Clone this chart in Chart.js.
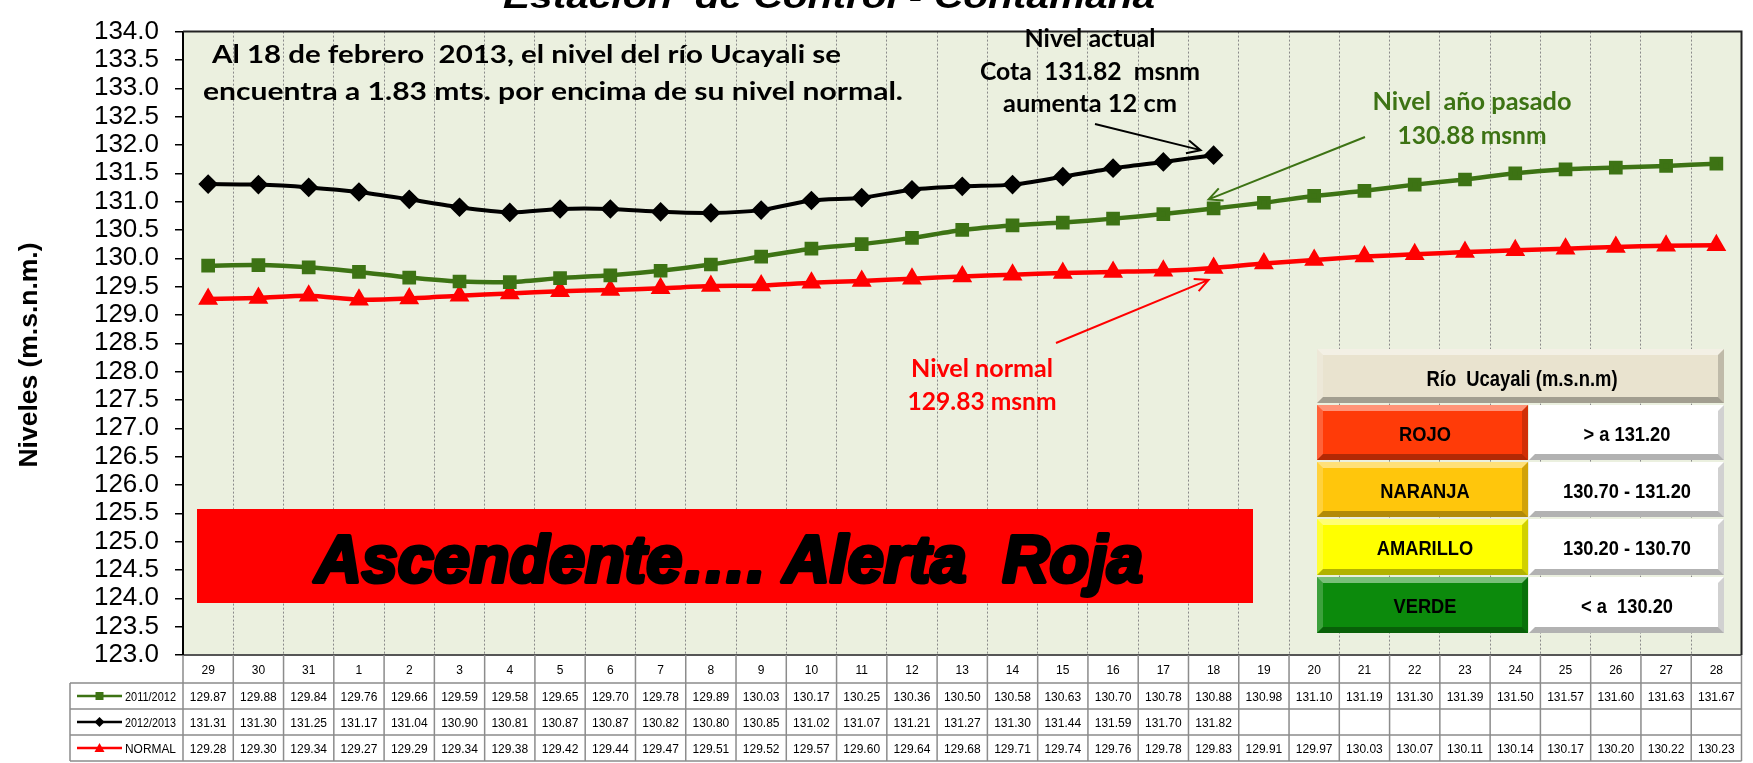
<!DOCTYPE html>
<html>
<head>
<meta charset="utf-8">
<script src="https://cdn.jsdelivr.net/npm/chart.js@4.4.1/dist/chart.umd.min.js"></script>
<style>
  html, body { margin: 0; padding: 0; background: #fff; }
  canvas { display: block; }
</style>
</head>
<body>
<canvas id="grafico" width="1753" height="763"></canvas>
<script>
// Datos: niveles del río Ucayali (m.s.n.m.)
const dias = ['29', '30', '31', '1', '2', '3', '4', '5', '6', '7', '8', '9', '10', '11', '12', '13', '14', '15', '16', '17', '18', '19', '20', '21', '22', '23', '24', '25', '26', '27', '28'];
const nivel20112012 = [129.87, 129.88, 129.84, 129.76, 129.66, 129.59, 129.58, 129.65, 129.70, 129.78, 129.89, 130.03, 130.17, 130.25, 130.36, 130.50, 130.58, 130.63, 130.70, 130.78, 130.88, 130.98, 131.10, 131.19, 131.30, 131.39, 131.50, 131.57, 131.60, 131.63, 131.67];
const nivel20122013 = [131.31, 131.30, 131.25, 131.17, 131.04, 130.90, 130.81, 130.87, 130.87, 130.82, 130.80, 130.85, 131.02, 131.07, 131.21, 131.27, 131.30, 131.44, 131.59, 131.70, 131.82, null, null, null, null, null, null, null, null, null, null];
const nivelNormal = [129.28, 129.30, 129.34, 129.27, 129.29, 129.34, 129.38, 129.42, 129.44, 129.47, 129.51, 129.52, 129.57, 129.60, 129.64, 129.68, 129.71, 129.74, 129.76, 129.78, 129.83, 129.91, 129.97, 130.03, 130.07, 130.11, 130.14, 130.17, 130.20, 130.22, 130.23];
const series = ['2011/2012', '2012/2013', 'NORMAL'];
const alertas = ['ROJO', 'NARANJA', 'AMARILLO', 'VERDE'];
const rangos = ['> a 131.20', '130.70 - 131.20', '130.20 - 130.70', '< a  130.20'];
const yMin = 123, yMax = 134, yPaso = 0.5;
const diaActual = 20; // índice del 18 de febrero

const VERDE = '#3d7314';
const ROJO = '#ff0000';

// Texto centrado (o alineado) con ancho ajustado
function texto(ctx, s, x, y, font, color, ancho, align, grosor) {
    ctx.save();
    ctx.font = font;
    ctx.fillStyle = color;
    ctx.textBaseline = 'alphabetic';
    ctx.textAlign = align || 'center';
    const w = ctx.measureText(s).width;
    const k = ancho ? ancho / w : 1;
    ctx.translate(x, y);
    ctx.scale(k, 1);
    if (grosor) {
        ctx.strokeStyle = color;
        ctx.lineWidth = grosor;
        ctx.lineJoin = 'round';
        ctx.strokeText(s, 0, 0);
    }
    ctx.fillText(s, 0, 0);
    ctx.restore();
}

function flecha(ctx, x1, y1, x2, y2, color) {
    const a = Math.atan2(y2 - y1, x2 - x1), L = 15, sp = 0.45;
    ctx.save();
    ctx.strokeStyle = color;
    ctx.lineWidth = 2;
    ctx.beginPath();
    ctx.moveTo(x1, y1);
    ctx.lineTo(x2, y2);
    ctx.moveTo(x2 - L * Math.cos(a - sp), y2 - L * Math.sin(a - sp));
    ctx.lineTo(x2, y2);
    ctx.lineTo(x2 - L * Math.cos(a + sp), y2 - L * Math.sin(a + sp));
    ctx.stroke();
    ctx.restore();
}

// Caja con efecto biselado
function caja(ctx, x, y, w, h, color) {
    const b = 6;
    ctx.save();
    ctx.fillStyle = color;
    ctx.fillRect(x, y, w, h);
    const lado = (pts, c) => {
        ctx.beginPath();
        ctx.moveTo(pts[0], pts[1]);
        for (let i = 2; i < pts.length; i += 2) ctx.lineTo(pts[i], pts[i + 1]);
        ctx.closePath();
        ctx.fillStyle = c;
        ctx.fill();
    };
    lado([x, y, x + w, y, x + w - b, y + b, x + b, y + b], 'rgba(255,255,255,0.45)');
    lado([x, y, x + b, y + b, x + b, y + h - b, x, y + h], 'rgba(255,255,255,0.2)');
    lado([x, y + h, x + b, y + h - b, x + w - b, y + h - b, x + w, y + h], 'rgba(0,0,0,0.3)');
    lado([x + w, y, x + w, y + h, x + w - b, y + h - b, x + w - b, y + b], 'rgba(0,0,0,0.18)');
    ctx.restore();
}

function marcador(ctx, tipo, x, y, color) {
    ctx.save();
    ctx.fillStyle = color;
    ctx.beginPath();
    if (tipo === 'rect') ctx.rect(x - 4, y - 4, 8, 8);
    else if (tipo === 'rectRot') { ctx.moveTo(x, y - 5); ctx.lineTo(x + 5, y); ctx.lineTo(x, y + 5); ctx.lineTo(x - 5, y); }
    else { ctx.moveTo(x, y - 5); ctx.lineTo(x + 5, y + 4); ctx.lineTo(x - 5, y + 4); }
    ctx.closePath();
    ctx.fill();
    ctx.restore();
}

const decoracion = {
    id: 'decoracion',
    beforeDraw(chart) {
        const { ctx, chartArea: a } = chart;
        ctx.save();
        ctx.fillStyle = '#fff';
        ctx.fillRect(0, 0, chart.width, chart.height);
        ctx.fillStyle = '#ebf0df';
        ctx.fillRect(a.left, a.top, a.right - a.left, a.bottom - a.top);
        ctx.restore();
    },
    beforeDatasetsDraw(chart) {
        const ctx = chart.ctx;
        // Banner de alerta
        ctx.save();
        ctx.fillStyle = '#ff0000';
        ctx.fillRect(197, 509, 1056, 94);
        ctx.restore();
        texto(ctx, 'Ascendente…. Alerta  Roja', 729, 582, 'italic bold 66px "Liberation Sans"', '#000', 828, 'center', 4);

        // Tabla de niveles de alerta
        caja(ctx, 1317, 349, 407, 54, '#e9e3cf');
        texto(ctx, 'Río  Ucayali (m.s.n.m)', 1522, 386, 'bold 22px "Liberation Sans"', '#000', 191);
        const colores = ['#ff3b08', '#ffc60c', '#ffff00', '#0c8a0c'];
        const filas = [[405, 55], [462, 55], [519, 56], [577, 56]];
        alertas.forEach((n, i) => {
            const [y, h] = filas[i];
            caja(ctx, 1317, y, 211, h, colores[i]);
            caja(ctx, 1529, y, 195, h, '#ffffff');
            ctx.save();
            ctx.font = 'bold 21px "Liberation Sans"';
            const w1 = ctx.measureText(n).width * 0.87;
            const w2 = ctx.measureText(rangos[i]).width * 0.87;
            ctx.restore();
            texto(ctx, n, 1425, y + h / 2 + 8, 'bold 21px "Liberation Sans"', '#000', w1);
            texto(ctx, rangos[i], 1627, y + h / 2 + 8, 'bold 21px "Liberation Sans"', '#000', w2);
        });
    },
    afterDatasetsDraw(chart) {
        const { ctx, chartArea: a } = chart;
        // Borde del área de trazado
        ctx.save();
        ctx.strokeStyle = '#222';
        ctx.lineWidth = 2;
        ctx.beginPath();
        ctx.moveTo(a.left, a.top);
        ctx.lineTo(a.right, a.top);
        ctx.lineTo(a.right, a.bottom);
        ctx.stroke();
        ctx.restore();

        const f = 'bold 24px Lato';
        texto(ctx, 'Al 18 de febrero  2013, el nivel del río Ucayali se', 212, 63, f, '#000', 629, 'left');
        texto(ctx, 'encuentra a 1.83 mts. por encima de su nivel normal.', 203, 100, f, '#000', 700, 'left');

        texto(ctx, 'Nivel actual', 1090, 47, f, '#000', 131);
        texto(ctx, 'Cota  131.82  msnm', 1090, 80, f, '#000', 220);
        texto(ctx, 'aumenta 12 cm', 1090, 112, f, '#000', 174);

        texto(ctx, 'Nivel  año pasado', 1472, 110, f, VERDE, 199);
        texto(ctx, '130.88 msnm', 1472, 144, f, VERDE, 149);

        texto(ctx, 'Nivel normal', 982, 377, f, ROJO, 142);
        texto(ctx, '129.83 msnm', 982, 410, f, ROJO, 149);

        // Flechas hacia el punto del 18 de febrero
        const pV = chart.getDatasetMeta(0).data[diaActual];
        const pN = chart.getDatasetMeta(1).data[diaActual];
        const pR = chart.getDatasetMeta(2).data[diaActual];
        flecha(ctx, 1095, 124, pN.x - 13, pN.y - 5, '#000');
        flecha(ctx, 1365, 137, pV.x - 5, pV.y - 9, VERDE);
        flecha(ctx, 1056, 343, pR.x - 5, pR.y + 12, ROJO);
    },
    afterDraw(chart) {
        const { ctx, scales: { x } } = chart;
        // Título (recortado arriba)
        texto(ctx, 'Estación  de Control - Contamana', 829, 8, 'italic bold 34px "Liberation Sans"', '#000', 652);

        // Título del eje Y
        ctx.save();
        ctx.translate(28, 355);
        ctx.rotate(-Math.PI / 2);
        texto(ctx, 'Niveles (m.s.n.m.)', 0, 9, 'bold 26px "Liberation Sans"', '#000', 225);
        ctx.restore();

        // Tabla de datos
        const n = dias.length;
        const cw = (x.right - x.left) / n;
        const top = x.top, hh = 28, rh = 26;
        const izq = 70;
        const valores = [nivel20112012, nivel20122013, nivelNormal];
        const estilos = [['rect', VERDE], ['rectRot', '#000'], ['triangle', ROJO]];
        ctx.save();
        ctx.strokeStyle = '#8c8c8c';
        ctx.lineWidth = 1.5;
        ctx.beginPath();
        ctx.moveTo(x.left, top + hh);
        ctx.lineTo(x.right, top + hh);
        for (let r = 1; r <= 3; r++) {
            ctx.moveTo(izq, top + hh + rh * r);
            ctx.lineTo(x.right, top + hh + rh * r);
        }
        ctx.moveTo(izq, top + hh);
        ctx.lineTo(x.left, top + hh);
        for (let i = 0; i <= n; i++) {
            ctx.moveTo(x.left + cw * i, top);
            ctx.lineTo(x.left + cw * i, top + hh + rh * 3);
        }
        ctx.moveTo(izq, top + hh);
        ctx.lineTo(izq, top + hh + rh * 3);
        ctx.stroke();
        ctx.restore();

        dias.forEach((d, i) => {
            const cx = x.getPixelForValue(i);
            texto(ctx, d, cx, top + 19, '12px "Liberation Sans"', '#000');
            valores.forEach((serie, r) => {
                if (serie[i] == null) return;
                texto(ctx, serie[i].toFixed(2), cx, top + hh + rh * r + 18, '12px "Liberation Sans"', '#000');
            });
        });
        series.forEach((s, r) => {
            const cy = top + hh + rh * r + rh / 2;
            const [tipo, col] = estilos[r];
            ctx.save();
            ctx.strokeStyle = col;
            ctx.lineWidth = 2.5;
            ctx.beginPath();
            ctx.moveTo(77, cy);
            ctx.lineTo(122, cy);
            ctx.stroke();
            ctx.restore();
            marcador(ctx, tipo, 99.5, cy, col);
            ctx.save();
            ctx.font = '12px "Liberation Sans"';
            const w = Math.min(ctx.measureText(s).width, 51);
            ctx.restore();
            texto(ctx, s, 125, cy + 4.5, '12px "Liberation Sans"', '#000', w, 'left');
        });
    }
};

new Chart(document.getElementById('grafico'), {
    type: 'line',
    data: {
        labels: dias,
        datasets: [{
            label: series[0],
            data: nivel20112012,
            borderColor: VERDE,
            backgroundColor: VERDE,
            borderWidth: 4.5,
            pointStyle: 'rect',
            pointRadius: 6.5,
            tension: 0.25
        }, {
            label: series[1],
            data: nivel20122013,
            borderColor: '#000',
            backgroundColor: '#000',
            borderWidth: 4,
            pointStyle: 'rectRot',
            pointRadius: 7,
            tension: 0.25
        }, {
            label: series[2],
            data: nivelNormal,
            borderColor: ROJO,
            backgroundColor: ROJO,
            borderWidth: 4.5,
            pointStyle: 'triangle',
            pointRadius: 7,
            tension: 0.25
        }]
    },
    options: {
        responsive: false,
        animation: false,
        events: [],
        layout: { padding: { top: 17, right: 3, left: 0, bottom: 0 } },
        plugins: { legend: { display: false }, tooltip: { enabled: false } },
        scales: {
            x: {
                offset: true,
                ticks: { display: false },
                grid: { offset: true, color: '#8a8a8a', lineWidth: 1, drawTicks: false },
                border: { color: '#555', width: 2, dash: [2, 2] },
                afterFit(s) { s.height = 108; }
            },
            y: {
                min: yMin,
                max: yMax,
                ticks: {
                    stepSize: yPaso,
                    autoSkip: false,
                    padding: 16,
                    color: '#000',
                    font: { family: '"Liberation Sans"', size: 26 },
                    callback: v => v.toFixed(1)
                },
                grid: { drawOnChartArea: false, drawTicks: true, tickLength: 8, color: '#000', lineWidth: 1.5 },
                border: { color: '#000', width: 2 },
                afterFit(s) { s.width = 183; }
            }
        }
    },
    plugins: [decoracion]
});
</script>
</body>
</html>
